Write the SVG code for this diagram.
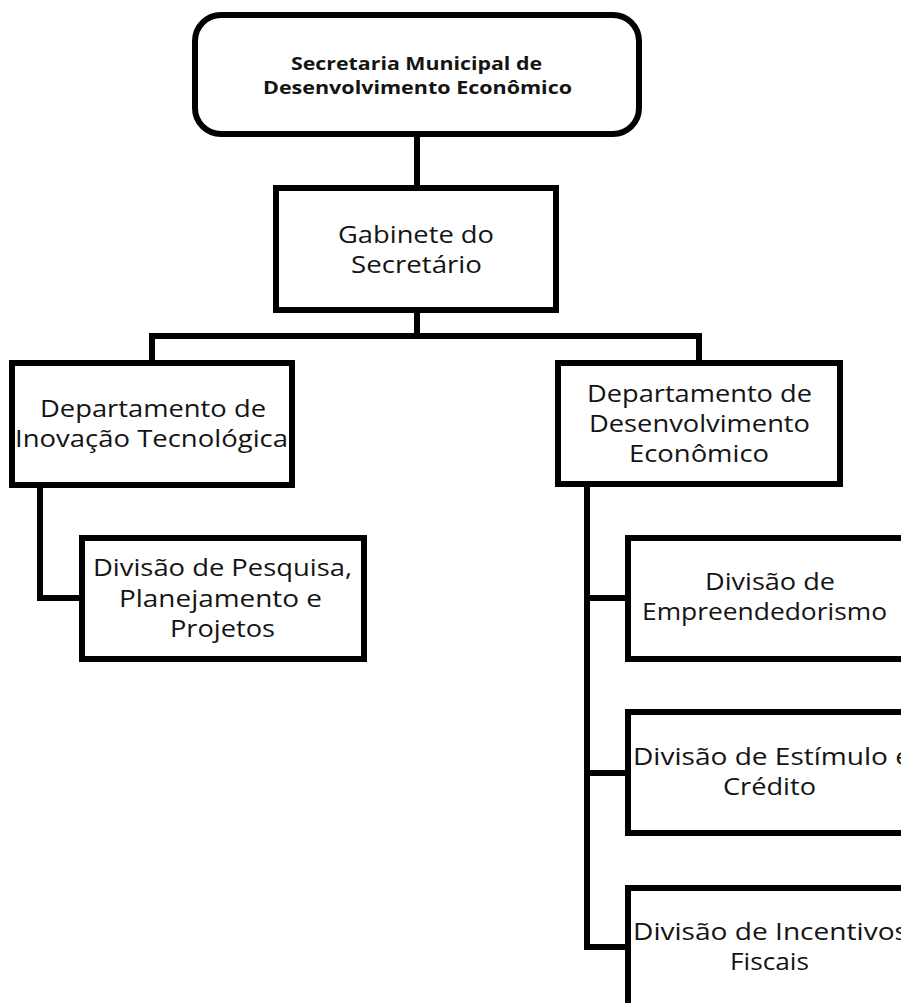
<svg xmlns="http://www.w3.org/2000/svg" width="901" height="1003" viewBox="0 0 901 1003">
  <style>
    .box { fill: #fff; stroke: #000; stroke-width: 6; stroke-linejoin: miter; }
    .link { fill: none; stroke: #000; stroke-width: 6; stroke-linejoin: miter; stroke-linecap: square; }
    .t { font-family: "Open Sans", "Noto Sans", sans-serif; font-size: 24px; fill: #141414; }
    .tb { font-family: "Open Sans", "Noto Sans", sans-serif; font-size: 18px; font-weight: bold; fill: #141414; }
  </style>
  <rect width="901" height="1003" fill="#fff"/>

  <!-- connectors -->
  <g id="connectors">
    <path class="link" d="M417 137 V185"/>
    <path class="link" d="M417 313 V336 M152 360 V336 H699 V360"/>
    <path class="link" d="M40 488 V598 H79"/>
    <path class="link" d="M587 487 V947 H625 M587 598 H625 M587 773 H625"/>
  </g>

  <g id="secretaria">
    <rect class="box" x="195" y="15" width="444" height="119" rx="26" ry="26"/>
    <text class="tb" x="291" y="69.5" textLength="251" lengthAdjust="spacingAndGlyphs">Secretaria Municipal de</text>
    <text class="tb" x="263" y="94" textLength="309" lengthAdjust="spacingAndGlyphs">Desenvolvimento Econômico</text>
  </g>

  <g id="gabinete">
    <rect class="box" x="276" y="188" width="280" height="122"/>
    <text class="t" x="338" y="243" textLength="156" lengthAdjust="spacingAndGlyphs">Gabinete do</text>
    <text class="t" x="351" y="273" textLength="131" lengthAdjust="spacingAndGlyphs">Secretário</text>
  </g>

  <g id="dep-inovacao">
    <rect class="box" x="12" y="363" width="280" height="122"/>
    <text class="t" x="40" y="417" textLength="226" lengthAdjust="spacingAndGlyphs">Departamento de</text>
    <text class="t" x="15" y="447" textLength="273" lengthAdjust="spacingAndGlyphs">Inovação Tecnológica</text>
  </g>

  <g id="div-pesquisa">
    <rect class="box" x="82" y="538" width="282" height="121"/>
    <text class="t" x="93" y="576" textLength="259" lengthAdjust="spacingAndGlyphs">Divisão de Pesquisa,</text>
    <text class="t" x="119" y="607" textLength="203" lengthAdjust="spacingAndGlyphs">Planejamento e</text>
    <text class="t" x="170" y="637" textLength="105" lengthAdjust="spacingAndGlyphs">Projetos</text>
  </g>

  <g id="dep-desenvolvimento">
    <rect class="box" x="558" y="363" width="282" height="121"/>
    <text class="t" x="587" y="402" textLength="225" lengthAdjust="spacingAndGlyphs">Departamento de</text>
    <text class="t" x="589" y="432" textLength="221" lengthAdjust="spacingAndGlyphs">Desenvolvimento</text>
    <text class="t" x="629" y="462" textLength="140" lengthAdjust="spacingAndGlyphs">Econômico</text>
  </g>

  <g id="div-empreendedorismo">
    <rect class="box" x="628" y="538" width="290" height="121"/>
    <text class="t" x="705" y="590" textLength="130" lengthAdjust="spacingAndGlyphs">Divisão de</text>
    <text class="t" x="642" y="620" textLength="245" lengthAdjust="spacingAndGlyphs">Empreendedorismo</text>
  </g>

  <g id="div-estimulo">
    <rect class="box" x="628" y="712" width="290" height="121"/>
    <text class="t" x="633" y="765" textLength="278" lengthAdjust="spacingAndGlyphs">Divisão de Estímulo e</text>
    <text class="t" x="723" y="795" textLength="93" lengthAdjust="spacingAndGlyphs">Crédito</text>
  </g>

  <g id="div-incentivos">
    <rect class="box" x="628" y="888" width="290" height="130"/>
    <text class="t" x="633" y="940" textLength="275" lengthAdjust="spacingAndGlyphs">Divisão de Incentivos</text>
    <text class="t" x="730" y="970" textLength="79" lengthAdjust="spacingAndGlyphs">Fiscais</text>
  </g>
</svg>
